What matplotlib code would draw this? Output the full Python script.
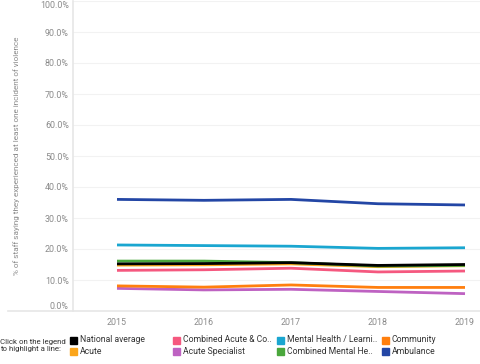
import matplotlib.pyplot as plt
from matplotlib.patches import Rectangle
from matplotlib.lines import Line2D

plt.rcParams['font.family'] = ['Roboto', 'DejaVu Sans']

years = [2015, 2016, 2017, 2018, 2019]

# series values (%)
national = [15.2, 15.3, 15.6, 14.7, 15.0]
acute = [14.8, 14.9, 15.2, 14.3, 14.6]
comb_acute = [13.1, 13.3, 13.8, 12.6, 12.9]
acute_spec = [7.3, 6.8, 7.0, 6.3, 5.6]
mental = [21.3, 21.1, 20.9, 20.2, 20.4]
comb_mental = [16.1, 16.1, 15.6, 14.5, 14.7]
community = [8.1, 7.7, 8.4, 7.6, 7.6]
ambulance = [36.0, 35.7, 36.0, 34.6, 34.2]

labels = ['National average', 'Acute', 'Combined Acute & Co..', 'Acute Specialist',
          'Mental Health / Learni..', 'Combined Mental He..', 'Community', 'Ambulance']
series = [national, acute, comb_acute, acute_spec, mental, comb_mental, community, ambulance]
colors = ['#000000', '#FBA51B', '#F5587F', '#BE62C2', '#1AA6D0', '#4AA73C', '#FF7F0E', '#2346A5']

fig = plt.figure(figsize=(4.8, 3.64), dpi=100)
ax = fig.add_axes([73 / 480, 1 - 311 / 364, 1 - 73 / 480, 310 / 364])

# draw national average last so it sits on top
order = [1, 2, 3, 4, 5, 6, 7, 0]
for i in order:
    ax.plot(years, series[i], color=colors[i], lw=2.0, solid_capstyle='butt', zorder=3)

ax.set_xlim(2015 - 44 / 87, 2019 + 15 / 87)
ax.set_ylim(0, 100)
yt = list(range(0, 101, 10))
ax.set_yticks(yt)
ax.set_yticklabels([f'{v:.1f}%' for v in yt])
for lab, v in zip(ax.get_yticklabels(), yt):
    if v == 0:
        lab.set_va('bottom')
    elif v == 100:
        lab.set_va('top')
ax.set_xticks(years)
ax.set_xticklabels([str(y) for y in years])
ax.tick_params(axis='y', length=0, labelsize=6.4, colors='#8a8a8a', pad=3)
ax.tick_params(axis='x', length=0, labelsize=6.4, colors='#8a8a8a', pad=5)
ax.grid(axis='y', color='#f2f2f2', lw=0.8)
ax.set_axisbelow(True)
for s in ['top', 'right', 'bottom']:
    ax.spines[s].set_visible(False)
ax.spines['left'].set_color('#e6e6e6')
ax.spines['left'].set_linewidth(1.2)

# baseline extending left under the tick labels
fig.add_artist(Line2D([8 / 480, 1], [1 - 311 / 364] * 2, color='#e6e6e6', lw=1.2))

ax.set_ylabel('% of staff saying they experienced at least one incident of violence',
              fontsize=5.9, color='#8a8a8a')
ax.yaxis.set_label_coords(-53 / 407, 0.5)

fig.text(0 / 480, 1 - 345.5 / 364, 'Click on the legend\nto highlight a line:', fontsize=5.7,
         color='#333333', va='center', ha='left', linespacing=1.35)

col_x = [70, 173, 277, 382]
row_y = [340, 351]
for k, (lab, c) in enumerate(zip(labels, colors)):
    cx = col_x[k // 2]
    cy = row_y[k % 2]
    fig.add_artist(Rectangle((cx / 480, 1 - (cy + 3.5) / 364), 7 / 480, 7 / 364,
                             color=c, transform=fig.transFigure))
    fig.text((cx + 10) / 480, 1 - cy / 364, lab, fontsize=6.2, color='#333333',
             va='center', ha='left')

fig.savefig('out.png', dpi=100)
